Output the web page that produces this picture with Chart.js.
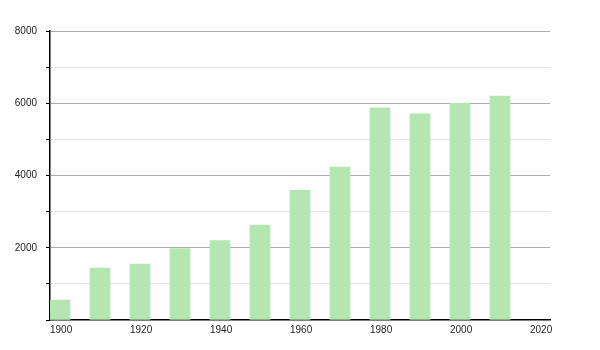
<!DOCTYPE html>
<html lang="en">

<head>
    <meta charset="UTF-8">
    <title>Population</title>
    <script src="https://cdn.jsdelivr.net/npm/chart.js"></script>
    <style>
        body {
            margin: 0;
            background: #fff;
        }
    </style>
</head>

<body>
    <canvas id="pop-chart" width="600" height="350"></canvas>

    <script>
        // data
        const years = [1900, 1910, 1920, 1930, 1940, 1950, 1960, 1970, 1980, 1990, 2000, 2010];
        const population = [550, 1440, 1550, 1980, 2200, 2630, 3590, 4230, 5870, 5710, 6000, 6200];
        const yLabels = [2000, 4000, 6000, 8000];

        const ctx = document.getElementById('pop-chart').getContext('2d');
        new Chart(ctx, {
            type: 'bar',
            data: {
                datasets: [{
                    // bar covers the first half of its decade
                    data: years.map((y, i) => ({ x: y + 2.5, y: population[i] })),
                    backgroundColor: '#b3e6b1',
                    borderWidth: 0,
                    barThickness: 20
                }]
            },
            options: {
                responsive: false,
                animation: false,
                layout: {
                    padding: { top: 31, right: 50, left: 0, bottom: 0 }
                },
                plugins: {
                    legend: { display: false },
                    tooltip: { enabled: false }
                },
                scales: {
                    x: {
                        type: 'linear',
                        offset: false,
                        min: 1900,
                        max: 2025,
                        grid: { display: false },
                        border: { color: '#000', width: 1.5 },
                        ticks: {
                            stepSize: 20,
                            includeBounds: false,
                            align: 'start',
                            padding: -4,
                            color: '#222',
                            font: { family: 'Liberation Sans', size: 10 },
                            callback: v => String(v)
                        },
                        afterFit: s => { s.height = 30; }
                    },
                    y: {
                        min: 0,
                        max: 8000,
                        grid: {
                            color: c => c.tick.value === 0 ? 'rgba(0,0,0,0)' :
                                (c.tick.value % 2000 === 0 ? '#aaa' : '#e4e4e4'),
                            tickColor: '#000',
                            tickLength: 4
                        },
                        border: { color: '#000', width: 1.5 },
                        ticks: {
                            stepSize: 1000,
                            padding: 9,
                            color: '#222',
                            font: { family: 'Liberation Sans', size: 10 },
                            callback: v => yLabels.includes(v) ? String(v) : ''
                        },
                        afterFit: s => { s.width = 50; }
                    }
                }
            }
        });
    </script>
</body>

</html>
